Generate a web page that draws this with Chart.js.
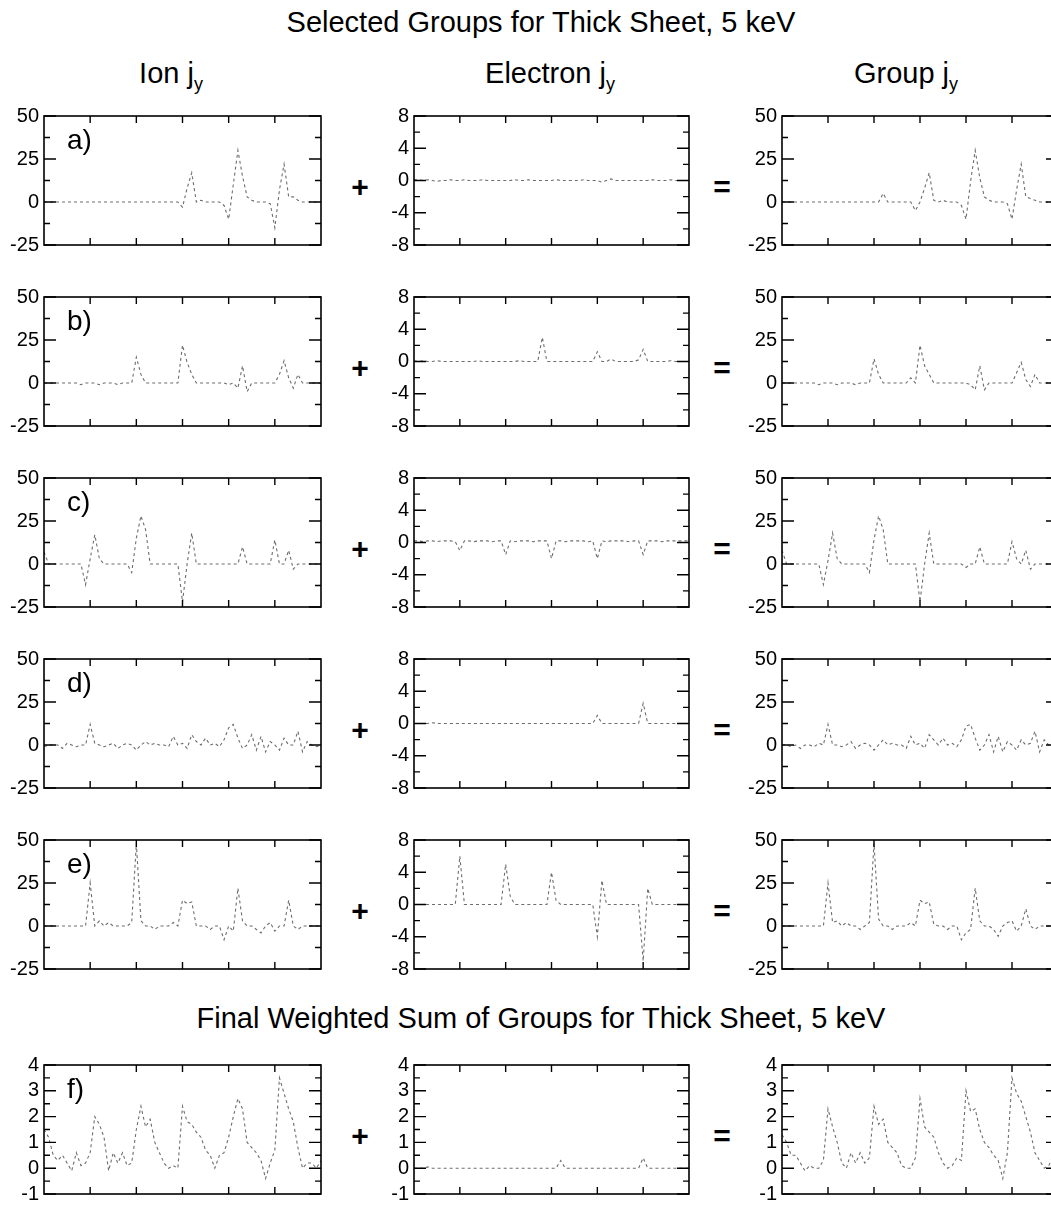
<!DOCTYPE html>
<html>
<head>
<meta charset="utf-8">
<title>Selected Groups for Thick Sheet, 5 keV</title>
<script src="https://cdn.jsdelivr.net/npm/chart.js@4.4.0/dist/chart.umd.min.js"></script>
<style>
  html, body { margin: 0; padding: 0; background: #fff; overflow: hidden; }
  body { width: 1051px; height: 1205px; position: relative; font-family: "Liberation Sans", Arial, sans-serif; color: #000; }
  canvas { position: absolute; }
  .txt { position: absolute; white-space: nowrap; transform: translate(-50%, -50%); line-height: 1; }
  .title { font-size: 29px; }
  .head { font-size: 29px; }
  .head sub { font-size: 18px; vertical-align: -7px; }
  .op { font-size: 30px; font-weight: bold; }
</style>
</head>
<body>
<div class="txt title" style="left:541px;top:22px">Selected Groups for Thick Sheet, 5 keV</div>
<div class="txt head" style="left:171px;top:76px">Ion j<sub>y</sub></div>
<div class="txt head" style="left:550px;top:76px">Electron j<sub>y</sub></div>
<div class="txt head" style="left:906px;top:76px">Group j<sub>y</sub></div>
<div class="txt title" style="left:541px;top:1018px">Final Weighted Sum of Groups for Thick Sheet, 5 keV</div>

<script>
// x grid: 61 samples across the sheet, tick marks every 10
const steps = Array.from({ length: 61 }, (_, i) => i);
const xTicks = [10, 20, 30, 40, 50];

// y axis ticks
const groupTicks = [-25, 0, 25, 50];
const groupMinor = [-12.5, 12.5, 37.5];
const elecTicks = [-8, -4, 0, 4, 8];
const elecMinor = [-6, -2, 2, 6];
const sumTicks = [-1, 0, 1, 2, 3, 4];
const sumMinor = [-0.5, 0.5, 1.5, 2.5, 3.5];

const rowLabels = ['a)', 'b)', 'c)', 'd)', 'e)', 'f)'];

// a)
const ionA = [
  0, 0, 0, 0, 0, 0, 0, 0, 0, 0,
  0, 0, 0, 0, 0, 0, 0, 0, 0, 0,
  0, 0, 0, 0, 0, 0, 0, 0, 0, 0,
  -3, 8, 17, 0, 1, 0, 0, 0, 0, -2,
  -10, 10, 30, 15, 3, 1, 0, 0, 0, -1,
  -15, 7, 22, 3, 3, 1, 0, 0, 0, 0,
  0];
const elecA = [
  0.1, 0.1, 0, 0.1, 0, -0.1, 0, 0, 0.1, 0,
  0, 0.1, 0, 0, 0, 0.1, 0, 0, 0, 0,
  0, 0, 0.1, 0, 0, 0.1, 0, 0, 0, 0,
  0, 0.1, 0, 0, 0, 0, 0, 0.1, 0, 0,
  0, -0.2, 0, 0.2, 0, 0, 0, 0, 0, 0,
  0, 0, 0.1, 0, 0, 0, 0.1, 0, 0, 0,
  0];
const grpA = [
  0, 0, 0, 0, 0, 0, 0, 0, 0, 0,
  0, 0, 0, 0, 0, 0, 0, 0, 0, 0,
  0, 0, 5, 0, 0, 0, 0, 0, 0, -5,
  0, 8, 17, 1, 0, 1, 0, 0, 0, -2,
  -10, 12, 30, 14, 3, 1, 0, 0, 0, -1,
  -10, 7, 22, 3, 2, 1, 0, 0, 0, 0,
  0];

// b)
const ionB = [
  0, 0, 0, 0, 0, 0, 0, 0, -1, 0,
  0, 0, -1, 0, 0, 0, -1, 0, 0, 0,
  15, 5, 0, 0, 0, 0, 0, 0, 0, 0,
  22, 12, 5, 0, 0, 0, 0, 0, 0, 0,
  -1, 0, -3, 10, -5, 0, 0, 0, 0, 0,
  0, 5, 13, 3, -3, 5, 0, 0, 0, 0,
  0];
const elecB = [
  0.1, 0, 0.1, 0, 0, 0.1, 0, 0, 0, 0,
  0, 0, 0, 0, 0.1, 0, 0, 0, 0, 0,
  0, 0, 0, 0.1, 0, 0, 0, 0, 3, 0,
  0, 0, 0, 0, 0, 0, 0, 0, 0, 0,
  1.2, 0, 0, 0.3, 0, 0, 0, 0, 0, 0.2,
  1.5, 0, 0, 0, 0, 0, 0.1, 0, 0, 0,
  0];
const grpB = [
  0, 0, 0, 0, 0, 0, 0, 0, -1, 0,
  0, 0, -1, 0, 0, 0, -1, 0, 0, 0,
  14, 5, 0, 0, 0, 0, 0, 0, 3, 0,
  22, 10, 5, 0, 0, 0, 0, 0, 0, 0,
  0, -1, -4, 10, -4, 0, 0, 0, 0, 0,
  0, 6, 12, 2, -2, 5, 0, 0, 0, 0,
  0];

// c)
const ionC = [
  7, 0, 0, 0, 0, 0, 0, 0, 0, -12,
  3, 17, 3, 0, 0, 0, 0, 0, 0, -5,
  15, 28, 20, 0, 0, 0, 0, 0, 0, 0,
  -22, 0, 18, 0, 0, 0, 0, 0, 0, 0,
  0, 0, 0, 10, 0, 0, 0, 0, 0, 0,
  14, 0, 0, 8, -3, 0, 0, 0, 0, 0,
  0];
const elecC = [
  0.2, 0.2, 0.1, 0.2, 0.2, 0.1, 0.2, 0.2, 0.2, 0.1,
  -1, 0.2, 0.2, 0.1, 0.2, 0.2, 0.2, 0.1, 0.2, 0.2,
  -1.5, 0.2, 0.1, 0.2, 0.2, 0.2, 0.1, 0.2, 0.2, 0.2,
  -2, 0.2, 0.2, 0.1, 0.2, 0.2, 0.2, 0.2, 0.1, 0.2,
  -2, 0.2, 0.1, 0.2, 0.2, 0.2, 0.2, 0.1, 0.2, 0.2,
  -1.5, 0.2, 0.2, 0.2, 0.1, 0.2, 0.2, 0.2, 0.2, 0.2,
  0.2];
const grpC = [
  8, 0, 0, 0, 0, 0, 0, 0, 0, -12,
  2, 18, 3, 0, 0, 0, 0, 0, 0, -5,
  14, 28, 20, 0, 0, 0, 0, 0, 0, 0,
  -22, 0, 18, 0, 0, 0, 0, 0, 0, 0,
  -2, 0, 0, 10, 0, 0, 0, 0, 0, 0,
  13, 3, 0, 8, -3, 0, 0, 0, 0, 0,
  0];

// d)
const ionD = [
  -1, 0, 0, 0, -2, 1, 0, -1, 0, 0,
  12, 1, 0, -1, 0, 1, -2, 0, 1, 0,
  -3, 0, 2, 0, 1, 0, 0, -1, 5, 0,
  1, -2, 6, 2, 0, 4, 0, 1, -1, 3,
  10, 12, 4, -2, 0, 6, -3, 5, -4, 2,
  0, -3, 4, 0, 0, 8, -4, 2, 0, -1,
  0];
const elecD = [
  0, 0, 0, 0, 0.1, 0, 0, 0, 0, 0,
  0, 0, 0, 0, 0, 0, 0, 0, 0, 0,
  0, 0, 0, 0, 0, 0, 0, 0, 0, 0,
  0, 0, 0, 0, 0, 0, 0, 0, 0, 0,
  1, 0, 0, 0, 0, 0, 0, 0, 0, 0,
  2.5, 0, 0, 0, 0, 0, 0, 0, 0, 0,
  0];
const grpD = [
  0, 0, -1, 0, -2, 0, 0, -1, 1, 0,
  12, 0, 0, -1, 0, 2, -2, 0, 1, 0,
  -3, 0, 3, 0, 1, 0, 0, -2, 5, 0,
  1, -2, 6, 3, 0, 4, 0, 1, -1, 3,
  11, 12, 4, -3, 0, 6, -4, 5, -4, 2,
  0, -3, 3, 0, 1, 8, -4, 3, 0, -1,
  0];

// e)
const ionE = [
  0, 0, 0, 0, 0, 0, 0, 0, 0, 0,
  25, 0, 3, 0, 2, 0, 0, 0, 0, 2,
  48, 3, 0, 0, -2, 0, 0, 0, 2, 0,
  15, 13, 14, 0, 0, 0, -2, 0, 0, -8,
  0, -3, 22, 3, 0, 0, -2, -4, 0, 2,
  -3, 0, 0, 15, 0, -2, 0, 0, 0, 0,
  0];
const elecE = [
  0, 0, 0, 0, 0, 0, 0, 0, 0, 0,
  6, 0, 0, 0, 0, 0, 0, 0, 0, 0,
  5, 1, 0, 0, 0, 0, 0, 0, 0, 0,
  4, 0.5, 0, 0, 0, 0, 0, 0, 0, 0,
  -4, 3, 0, 0, 0, 0, 0, 0, 0, 0,
  -7, 2, 0, 0, 0, 0, 0, 0, 0, 0,
  0];
const grpE = [
  0, 0, 0, 0, 0, 0, 0, 0, 0, 0,
  25, 2, 3, 0, 2, 0, 0, -2, 0, 2,
  48, 4, 0, 0, -2, 0, 0, 0, 2, 0,
  15, 13, 14, 1, 0, 0, -2, 0, 0, -8,
  -4, -2, 22, 3, 0, 0, -2, -6, 0, 2,
  3, -3, 0, 10, 0, -2, 0, 0, 0, 0,
  0];

// f) final weighted sum
const ionF = [
  1.5, 1.2, 0.5, 0.3, 0.5, 0.2, -0.1, 0.6, 0.1, 0.2,
  0.6, 2.0, 1.7, 1.2, -0.1, 0.6, 0.2, 0.6, 0.1, 0.2,
  1.5, 2.4, 1.6, 1.9, 1.0, 0.6, 0.2, 0.0, 0.1, 0.0,
  2.4, 1.8, 1.7, 1.4, 1.2, 0.7, 0.5, 0.0, 0.5, 0.6,
  1.2, 2.0, 2.7, 2.3, 1.0, 0.8, 0.6, 0.3, -0.4, 0.2,
  0.7, 3.5, 2.9, 2.3, 1.8, 0.8, 0.0, 0.2, 0.2, 0.0,
  0.3];
const elecF = [
  0, 0, 0, 0.05, 0, 0, 0, 0, 0, 0,
  0, 0, 0, 0, 0, 0, 0, 0, 0, 0,
  0, 0, 0, 0, 0, 0, 0, 0, 0, 0,
  0, 0, 0.3, 0, 0, 0, 0, 0, 0, 0,
  0, 0, 0, 0, 0, 0, 0, 0, 0, 0,
  0.4, 0, 0, 0, 0, 0, 0, 0, 0, 0,
  0];
const grpF = [
  1.3, 1.0, 0.5, 0.5, 0.2, -0.1, 0.1, 0.0, 0.0, 0.3,
  2.3, 1.6, 1.0, 0.2, 0.0, 0.6, 0.2, 0.6, 0.2, 0.4,
  2.4, 1.7, 1.9, 1.0, 0.8, 0.6, 0.1, 0.0, 0.0, 0.4,
  2.7, 1.6, 1.4, 1.2, 0.6, 0.2, 0.0, 0.1, 0.4, 0.3,
  3.0, 2.2, 2.3, 1.5, 1.0, 0.8, 0.5, 0.3, -0.4, 0.6,
  3.5, 2.9, 2.6, 2.0, 1.4, 0.6, 0.3, 0.0, 0.1, 0.5,
  0.4];

// layout of the grid
const rowTops = [113, 294, 475, 656, 837, 1062];
const colLefts = [44, 414, 782];
const colWidths = [277, 275, 276];
const PLOT_H = 135;
const AXIS_W = 44;
const PAD = 13;
const FONT = '"Liberation Sans", Arial, Helvetica, sans-serif';

// frame with inward ticks on all four sides, plus panel letter
const frame = {
  id: 'frame',
  afterDatasetsDraw(chart, args, opts) {
    const { ctx, chartArea: a, scales: { x, y } } = chart;
    ctx.save();
    ctx.strokeStyle = '#000';
    ctx.lineWidth = 1.6;
    ctx.strokeRect(a.left, a.top, a.right - a.left, a.bottom - a.top);
    ctx.lineWidth = 1.4;
    ctx.beginPath();
    xTicks.forEach(v => {
      const px = x.getPixelForValue(v);
      ctx.moveTo(px, a.top); ctx.lineTo(px, a.top + 7);
      ctx.moveTo(px, a.bottom); ctx.lineTo(px, a.bottom - 7);
    });
    opts.major.forEach(v => {
      const py = y.getPixelForValue(v);
      ctx.moveTo(a.left, py); ctx.lineTo(a.left + 12, py);
      ctx.moveTo(a.right, py); ctx.lineTo(a.right - 12, py);
    });
    opts.minor.forEach(v => {
      const py = y.getPixelForValue(v);
      ctx.moveTo(a.left, py); ctx.lineTo(a.left + 6, py);
      ctx.moveTo(a.right, py); ctx.lineTo(a.right - 6, py);
    });
    ctx.stroke();
    if (opts.label) {
      ctx.fillStyle = '#000';
      ctx.font = '28px ' + FONT;
      ctx.textBaseline = 'middle';
      ctx.fillText(opts.label, a.left + 23, a.top + 25);
    }
    ctx.restore();
  }
};

function makePanel(row, col, data, yMin, yMax, major, minor, label) {
  const cv = document.createElement('canvas');
  cv.width = colWidths[col] + AXIS_W + 4;
  cv.height = PLOT_H + 2 * PAD;
  cv.style.left = (colLefts[col] - AXIS_W) + 'px';
  cv.style.top = (rowTops[row] - PAD) + 'px';
  document.body.appendChild(cv);

  new Chart(cv, {
    type: 'line',
    data: {
      labels: steps,
      datasets: [{
        data: data,
        borderColor: 'rgba(60, 60, 60, 0.75)',
        borderWidth: 1.1,
        borderDash: [3, 3],
        pointRadius: 0,
        tension: 0
      }]
    },
    options: {
      responsive: false,
      animation: false,
      events: [],
      layout: { padding: { top: PAD, bottom: PAD, left: 0, right: 4 } },
      plugins: {
        legend: { display: false },
        tooltip: { enabled: false },
        frame: { major: major, minor: minor, label: label }
      },
      scales: {
        x: { type: 'linear', min: 0, max: 60, display: false },
        y: {
          min: yMin,
          max: yMax,
          grid: { display: false, drawTicks: false },
          border: { display: false },
          afterFit: s => { s.width = AXIS_W; },
          afterBuildTicks: s => { s.ticks = major.map(v => ({ value: v })); },
          ticks: {
            padding: 5,
            color: '#000',
            font: { size: 20, family: FONT, lineHeight: 1.1 },
            callback: v => String(v)
          }
        }
      }
    },
    plugins: [frame]
  });
}

const rows = [
  [ionA, elecA, grpA],
  [ionB, elecB, grpB],
  [ionC, elecC, grpC],
  [ionD, elecD, grpD],
  [ionE, elecE, grpE],
  [ionF, elecF, grpF]
];

rows.forEach((r, i) => {
  const last = i === 5;
  makePanel(i, 0, r[0], last ? -1 : -25, last ? 4 : 50, last ? sumTicks : groupTicks, last ? sumMinor : groupMinor, rowLabels[i]);
  makePanel(i, 1, r[1], last ? -1 : -8, last ? 4 : 8, last ? sumTicks : elecTicks, last ? sumMinor : elecMinor, null);
  makePanel(i, 2, r[2], last ? -1 : -25, last ? 4 : 50, last ? sumTicks : groupTicks, last ? sumMinor : groupMinor, null);

  // + and = between the columns
  const plus = document.createElement('div');
  plus.className = 'txt op';
  plus.textContent = '+';
  plus.style.left = '360px';
  plus.style.top = (rowTops[i] + 74) + 'px';
  document.body.appendChild(plus);
  const eq = document.createElement('div');
  eq.className = 'txt op';
  eq.textContent = '=';
  eq.style.left = '722px';
  eq.style.top = (rowTops[i] + 74) + 'px';
  document.body.appendChild(eq);
});
</script>
</body>
</html>
